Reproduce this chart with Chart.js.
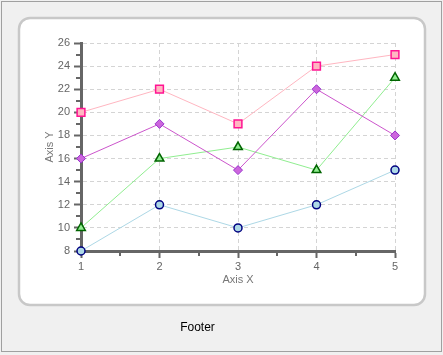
<!DOCTYPE html>
<html>
<head>
<meta charset="utf-8">
<script src="https://cdn.jsdelivr.net/npm/chart.js@4/dist/chart.umd.min.js"></script>
<style>
  html, body { margin: 0; padding: 0; background: #f0f0f0; }
  #wrap { width: 443px; height: 355px; }
</style>
</head>
<body>
<div id="wrap"><canvas id="c" width="443" height="355"></canvas></div>
<script>
const xLabels = ['1', '2', '3', '4', '5'];
const pinkValues = [20, 22, 19, 24, 25];
const purpleValues = [16, 19, 15, 22, 18];
const greenValues = [10, 16, 17, 15, 23];
const blueValues = [8, 12, 10, 12, 15];
const yMin = 8, yMax = 26, yStep = 2;
const xTitle = 'Axis X';
const yTitle = 'Axis Y';
const footerText = 'Footer';

const FONT = "'Liberation Sans', Arial, sans-serif";

function roundRect(ctx, x, y, w, h, r) {
  ctx.beginPath();
  ctx.moveTo(x + r, y);
  ctx.lineTo(x + w - r, y);
  ctx.arcTo(x + w, y, x + w, y + r, r);
  ctx.lineTo(x + w, y + h - r);
  ctx.arcTo(x + w, y + h, x + w - r, y + h, r);
  ctx.lineTo(x + r, y + h);
  ctx.arcTo(x, y + h, x, y + h - r, r);
  ctx.lineTo(x, y + r);
  ctx.arcTo(x, y, x + r, y, r);
  ctx.closePath();
}

const backgroundPlugin = {
  id: 'bgPanel',
  beforeDraw(chart) {
    const ctx = chart.ctx;
    ctx.save();
    ctx.fillStyle = '#f0f0f0';
    ctx.fillRect(0, 0, chart.width, chart.height);
    ctx.strokeStyle = '#a0a0a0';
    ctx.lineWidth = 1;
    ctx.strokeRect(1.5, 1.5, 440, 350);
    roundRect(ctx, 19, 18, 406, 287, 11);
    ctx.fillStyle = '#ffffff';
    ctx.fill();
    ctx.strokeStyle = '#c8c8c8';
    ctx.lineWidth = 2.5;
    ctx.stroke();
    ctx.restore();
  }
};

const minorTickPlugin = {
  id: 'minorTicks',
  beforeDatasetsDraw(chart) {
    const ctx = chart.ctx;
    const ys = chart.scales.y, xs = chart.scales.x;
    const area = chart.chartArea;
    ctx.save();
    ctx.strokeStyle = '#666666';
    ctx.lineWidth = 2;
    ctx.beginPath();
    for (let v = yMin + 1; v < yMax; v += yStep) {
      const py = Math.round(ys.getPixelForValue(v));
      ctx.moveTo(area.left - 5, py);
      ctx.lineTo(area.left, py);
    }
    for (let i = 0; i < xLabels.length - 1; i++) {
      const px = Math.round((xs.getPixelForTick(i) + xs.getPixelForTick(i + 1)) / 2);
      ctx.moveTo(px, area.bottom);
      ctx.lineTo(px, area.bottom + 5);
    }
    ctx.stroke();
    ctx.restore();
  }
};

const gridColor = '#d4d4d4';
const axisColor = '#666666';

new Chart(document.getElementById('c'), {
  type: 'line',
  data: {
    labels: xLabels,
    datasets: [
      {
        data: pinkValues, clip: false,
        borderColor: '#ffb6c1', borderWidth: 1,
        pointStyle: 'rect', pointRadius: 5.5,
        pointBackgroundColor: '#ffb6c1', pointBorderColor: '#ff1493', pointBorderWidth: 1.5,
        tension: 0, fill: false
      },
      {
        data: purpleValues, clip: false,
        borderColor: '#cc55cc', borderWidth: 1,
        pointStyle: 'rectRot', pointRadius: 4.5,
        pointBackgroundColor: '#cc66dd', pointBorderColor: '#9932cc', pointBorderWidth: 1,
        tension: 0, fill: false
      },
      {
        data: greenValues, clip: false,
        borderColor: '#90ee90', borderWidth: 1,
        pointStyle: 'triangle', pointRadius: 5,
        pointBackgroundColor: '#90ee90', pointBorderColor: '#006400', pointBorderWidth: 1.5,
        tension: 0, fill: false
      },
      {
        data: blueValues, clip: false,
        borderColor: '#add8e6', borderWidth: 1,
        pointStyle: 'circle', pointRadius: 4,
        pointBackgroundColor: '#add8e6', pointBorderColor: '#000080', pointBorderWidth: 1.5,
        tension: 0, fill: false
      }
    ]
  },
  options: {
    responsive: false,
    animation: false,
    devicePixelRatio: 1,
    layout: { padding: { left: 0, top: 43, right: 48, bottom: 0 } },
    plugins: {
      legend: { display: false },
      tooltip: { enabled: false },
      title: {
        display: true,
        text: footerText,
        position: 'bottom',
        color: '#000000',
        font: { size: 12, family: FONT, weight: 'normal', lineHeight: 1.2 },
        padding: { top: 0, bottom: 20 }
      }
    },
    scales: {
      x: {
        type: 'category',
        offset: false,
        afterFit(scale) { scale.height = 69.6; },
        grid: {
          color: gridColor, lineWidth: 1,
          drawTicks: true, tickLength: 7, tickColor: axisColor, tickWidth: 2, tickBorderDash: []
        },
        border: { display: true, color: axisColor, width: 3, dash: [4, 3] },
        ticks: { color: '#666666', font: { size: 11, family: FONT }, padding: 2, maxRotation: 0 },
        title: {
          display: true, text: xTitle, color: '#777777',
          font: { size: 11, family: FONT, lineHeight: 1.2 },
          padding: { top: 0, bottom: 34 }
        }
      },
      y: {
        type: 'linear',
        min: yMin, max: yMax,
        afterFit(scale) { scale.width = 81; },
        grid: {
          color: gridColor, lineWidth: 1,
          drawTicks: true, tickLength: 7, tickColor: axisColor, tickWidth: 2, tickBorderDash: []
        },
        border: { display: true, color: axisColor, width: 3, dash: [4, 3] },
        ticks: { stepSize: yStep, color: '#666666', font: { size: 11, family: FONT }, padding: 4 },
        title: {
          display: true, text: yTitle, color: '#777777',
          font: { size: 11, family: FONT, lineHeight: 1.2 },
          padding: { top: 43.5, bottom: 0 }
        }
      }
    }
  },
  plugins: [backgroundPlugin, minorTickPlugin]
});
</script>
</body>
</html>
